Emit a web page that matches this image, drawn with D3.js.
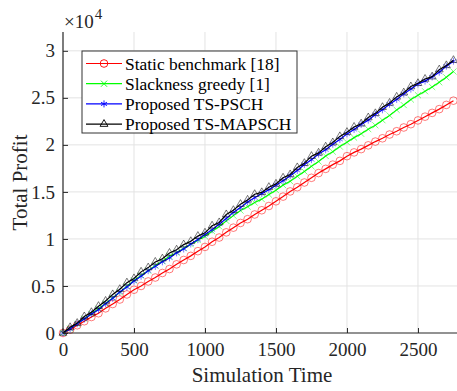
<!DOCTYPE html>
<html>
<head>
<meta charset="utf-8">
<script src="https://cdn.jsdelivr.net/npm/d3@7"></script>
<style>
    html, body { margin: 0; padding: 0; background: #fff; }
    svg { display: block; font-family: "Liberation Serif", "Times New Roman", serif; }
</style>
</head>
<body>
<div id="chart"></div>
<script>
// Data
const simTime = [0, 50, 100, 150, 200, 250, 300, 350, 400, 450, 500, 550, 600, 650, 700, 750,
    800, 850, 900, 950, 1000, 1050, 1100, 1150, 1200, 1250, 1300, 1350, 1400, 1450, 1500,
    1550, 1600, 1650, 1700, 1750, 1800, 1850, 1900, 1950, 2000, 2050, 2100, 2150, 2200,
    2250, 2300, 2350, 2400, 2450, 2500, 2550, 2600, 2650, 2700, 2750];

const staticBenchmark = [0, 350, 820, 1250, 1700, 2100, 2620, 3080, 3560, 4100, 4600, 5000,
    5480, 5900, 6380, 6800, 7300, 7760, 8200, 8700, 9150, 9700, 10150, 10700, 11200, 11700,
    12100, 12600, 13050, 13500, 14000, 14500, 15050, 15500, 16000, 16500, 17000, 17450,
    17900, 18300, 18800, 19200, 19550, 19950, 20350, 20700, 21100, 21450, 21850, 22200,
    22600, 23000, 23400, 23800, 24250, 24700];

const slacknessGreedy = [0, 470, 980, 1520, 2030, 2570, 3130, 3720, 4330, 4970, 5580, 6120,
    6630, 7170, 7630, 8170, 8530, 9020, 9430, 9870, 10280, 10820, 11330, 11920, 12480, 13020,
    13430, 13870, 14230, 14720, 15180, 15720, 16130, 16670, 17180, 17720, 18230, 18820,
    19280, 19820, 20280, 20770, 21180, 21670, 22080, 22620, 23130, 23720, 24230, 24820,
    25280, 25700, 26150, 26650, 27180, 27800];

const tsPsch = [0, 430, 980, 1480, 2030, 2480, 3120, 3680, 4370, 4880, 5520, 6030, 6620, 7080,
    7570, 7980, 8520, 8930, 9470, 9930, 10470, 10980, 11570, 12180, 12820, 13330, 13920,
    14380, 14820, 15230, 15720, 16180, 16720, 17280, 17920, 18430, 19020, 19480, 20070,
    20580, 21170, 21630, 22170, 22630, 23220, 23730, 24320, 24830, 25420, 25930, 26470,
    26780, 27220, 27730, 28370, 28900];

const tsMapsch = [0, 600, 1050, 1750, 2200, 2850, 3400, 4100, 4650, 5350, 5800, 6500, 6950,
    7550, 7900, 8500, 8850, 9400, 9750, 10300, 10650, 11400, 11750, 12600, 13050, 13700,
    14150, 14750, 14950, 15500, 15850, 16500, 16850, 17600, 18050, 18800, 19150, 19800,
    20250, 20900, 21350, 21900, 22250, 22900, 23350, 24000, 24450, 25100, 25550, 26200,
    26550, 27000, 27250, 28000, 28450, 29000];

const seriesNames = ["Static benchmark [18]", "Slackness greedy [1]", "Proposed TS-PSCH", "Proposed TS-MAPSCH"];
const seriesColors = ["#ff0000", "#00ff00", "#0000ff", "#000000"];
const xTicks = [0, 500, 1000, 1500, 2000, 2500];
const yTicks = [0, 5000, 10000, 15000, 20000, 25000, 30000];
const yTickLabels = ["0", "0.5", "1", "1.5", "2", "2.5", "3"];

const series = [staticBenchmark, slacknessGreedy, tsPsch, tsMapsch].map((vals, i) => ({
    name: seriesNames[i],
    color: seriesColors[i],
    symbol: [d3.symbolCircle, d3.symbolTimes, d3.symbolAsterisk, d3.symbolTriangle2][i],
    size: [46, 26, 34, 44][i],
    points: vals.map((v, j) => ({ t: simTime[j], v: v }))
}));

const W = 457, H = 391;
const margin = { top: 32, right: 0, bottom: 58, left: 63 };
const width = W - margin.left - margin.right;
const height = H - margin.top - margin.bottom;
const serif = "'Liberation Serif', 'Times New Roman', serif";

const svg = d3.select("#chart").append("svg")
    .attr("width", W)
    .attr("height", H);

const g = svg.append("g")
    .attr("transform", `translate(${margin.left},${margin.top})`);

// Scales
const x = d3.scaleLinear().domain([0, 2775]).range([0, width]);
const y = d3.scaleLinear().domain([0, 32000]).range([height, 0]);

// Grid
g.append("g").selectAll("line.vg")
    .data(xTicks.slice(1))
    .join("line")
    .attr("x1", d => x(d)).attr("x2", d => x(d))
    .attr("y1", 0).attr("y2", height)
    .attr("stroke", "#e3e3e3").attr("stroke-width", 1);

g.append("g").selectAll("line.hg")
    .data(yTicks.slice(1))
    .join("line")
    .attr("x1", 0).attr("x2", width)
    .attr("y1", d => y(d)).attr("y2", d => y(d))
    .attr("stroke", "#e3e3e3").attr("stroke-width", 1);

// Lines + markers
const line = d3.line().x(d => x(d.t)).y(d => y(d.v));

series.forEach(s => {
    g.append("path")
        .datum(s.points)
        .attr("fill", "none")
        .attr("stroke", s.color)
        .attr("stroke-width", 1.2)
        .attr("d", line);

    g.append("g").selectAll("path")
        .data(s.points)
        .join("path")
        .attr("transform", d => `translate(${x(d.t)},${y(d.v)})`)
        .attr("d", d3.symbol().type(s.symbol).size(s.size))
        .attr("fill", "none")
        .attr("stroke", s.color)
        .attr("stroke-opacity", 0.65)
        .attr("stroke-width", 0.8);
});

// Axes
const xAxis = g.append("g")
    .attr("transform", `translate(0,${height})`)
    .call(d3.axisBottom(x).tickValues(xTicks).tickSize(-5).tickPadding(10).tickFormat(d3.format("d")));

const yAxis = g.append("g")
    .call(d3.axisLeft(y).tickValues(yTicks).tickSize(-5).tickPadding(8)
        .tickFormat((d, i) => yTickLabels[i]));

[xAxis, yAxis].forEach(a => {
    a.select(".domain").attr("stroke", "#262626").attr("stroke-width", 1.2)
        .attr("d", a === xAxis ? `M0,0H${width}` : `M0,0V${height}`);
    a.selectAll(".tick line").attr("stroke", "#262626");
    a.selectAll(".tick text")
        .attr("fill", "#262626")
        .style("font-family", serif)
        .style("font-size", "19px");
});
xAxis.selectAll(".tick line").filter(d => d === 0).remove();

// Exponent label
const expo = svg.append("text")
    .attr("x", 64)
    .attr("y", 28)
    .attr("fill", "#262626")
    .style("font-size", "19px");
expo.append("tspan").text("\u00d710");
expo.append("tspan").attr("dx", 1).attr("dy", -9)
    .style("font-size", "15px")
    .text("4");

// Axis titles
svg.append("text")
    .attr("x", margin.left + width / 2 + 2)
    .attr("y", 382)
    .attr("text-anchor", "middle")
    .attr("fill", "#262626")
    .style("font-size", "21px")
    .text("Simulation Time");

svg.append("text")
    .attr("transform", `translate(27,${margin.top + height / 2}) rotate(-90)`)
    .attr("text-anchor", "middle")
    .attr("fill", "#262626")
    .style("font-size", "21px")
    .text("Total Profit");

// Legend
const legend = svg.append("g").attr("transform", "translate(82,51)");
legend.append("rect")
    .attr("width", 215).attr("height", 82)
    .attr("fill", "#fff")
    .attr("stroke", "#333")
    .attr("stroke-width", 1);

series.forEach((s, i) => {
    const row = legend.append("g").attr("transform", `translate(0,${12.5 + i * 20.2})`);
    row.append("line")
        .attr("x1", 4).attr("x2", 40)
        .attr("stroke", s.color).attr("stroke-width", 1.2);
    row.append("path")
        .attr("transform", "translate(22,0)")
        .attr("d", d3.symbol().type(s.symbol).size(s.size))
        .attr("fill", "none")
        .attr("stroke", s.color)
        .attr("stroke-width", 0.9);
    row.append("text")
        .attr("x", 43)
        .attr("y", 6)
        .attr("fill", "#000")
        .style("font-size", "17.4px")
        .text(s.name);
});
</script>
</body>
</html>
